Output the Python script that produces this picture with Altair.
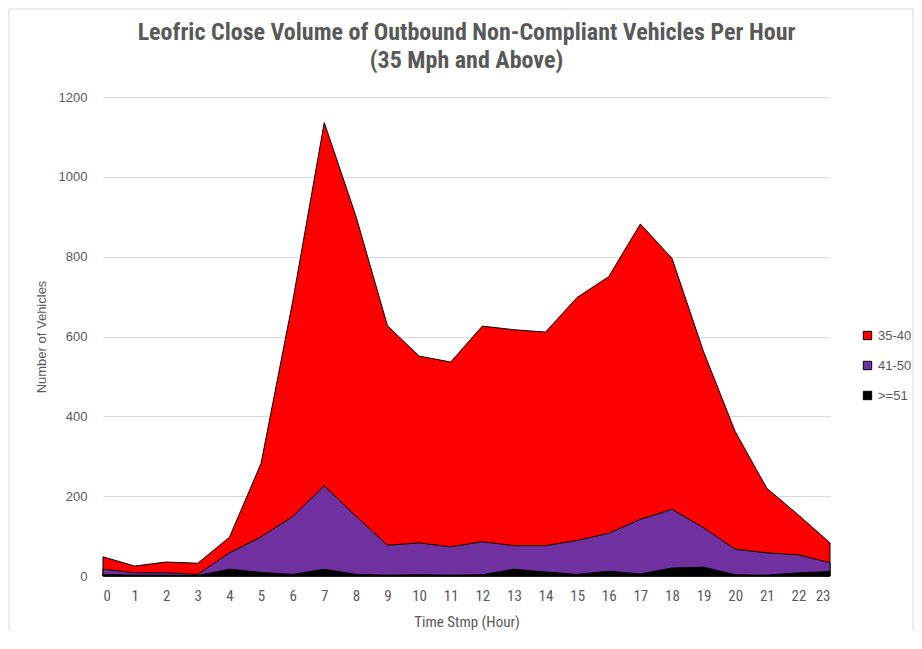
import altair as alt
import pandas as pd

hours = list(range(24))
s_35_40 = [48, 25, 35, 32, 97, 282, 687, 1136, 902, 627, 551, 536,
           626, 617, 611, 698, 750, 882, 796, 562, 362, 220, 153, 83]
s_41_50 = [17, 8, 8, 4, 58, 98, 149, 226, 150, 77, 83, 73,
           86, 76, 76, 89, 107, 142, 167, 121, 67, 58, 53, 33]
s_51 = [4, 2, 2, 1, 17, 9, 4, 17, 4, 2, 3, 2,
        3, 17, 10, 4, 12, 5, 20, 22, 3, 2, 8, 11]

series_names = ["35-40", "41-50", ">=51"]
series_colors = ["#ff0000", "#7030a0", "#000000"]

rows = []
for name, vals in zip(series_names, [s_35_40, s_41_50, s_51]):
    for h, v in zip(hours, vals):
        rows.append({"hour": h, "value": v, "series": name})
df = pd.DataFrame(rows)

narrow = "Liberation Sans Narrow, Roboto Condensed, DejaVu Sans Condensed, sans-serif"
regular = "Liberation Sans, Arial, sans-serif"
grey = "#595959"

color = alt.Color(
    "series:N",
    scale=alt.Scale(domain=series_names, range=series_colors),
    legend=alt.Legend(
        title=None, orient="none", legendX=758, legendY=232,
        symbolType="square", symbolSize=70, symbolStrokeColor="black",
        symbolStrokeWidth=1, symbolOpacity=1, labelFontSize=13, labelColor=grey,
        labelFont=regular, rowPadding=16, labelOffset=4, padding=0,
    ),
)

x = alt.X(
    "hour:Q",
    scale=alt.Scale(domain=[0, 23], nice=False, zero=False),
    axis=alt.Axis(
        title="Time Stmp (Hour)", values=hours, format="d", ticks=False,
        grid=False, domainColor="#d9d9d9", labelFont=narrow, labelFontSize=15,
        labelColor=grey, labelPadding=12, titleFont=narrow, titleFontSize=15,
        titleColor=grey, titleFontWeight="normal", titlePadding=11,
    ),
)
y = alt.Y(
    "value:Q",
    scale=alt.Scale(domain=[0, 1200], nice=False),
    stack=None,
    axis=alt.Axis(
        title="Number of Vehicles", values=[0, 200, 400, 600, 800, 1000, 1200],
        format="d", ticks=False, domain=False, gridColor="#d9d9d9", gridWidth=1,
        labelFont=regular, labelFontSize=13, labelColor=grey, labelPadding=16,
        titleFont=regular, titleFontSize=13, titleColor=grey,
        titleFontWeight="normal", titlePadding=10,
    ),
)

layers = []
for name in series_names:
    layers.append(
        alt.Chart(df)
        .transform_filter(alt.datum.series == name)
        .mark_area(stroke="black", strokeWidth=1, opacity=1, interpolate="linear")
        .encode(x=x, y=y, color=color)
    )

frame = alt.Chart(pd.DataFrame({"a": [0]})).mark_rect(
    fillOpacity=0, stroke="#d9d9d9", strokeWidth=1
).encode(x=alt.value(-94), x2=alt.value(810), y=alt.value(-88), y2=alt.value(543))

chart = alt.layer(frame, *layers).properties(
    width=727,
    height=479,
    autosize=alt.AutoSizeParams(type="none"),
    padding={"left": 95, "top": 89, "right": 84, "bottom": 55},
    title=alt.Title(
        ["Leofric Close Volume of Outbound Non-Compliant Vehicles Per Hour",
         "(35 Mph and Above)"],
        font=narrow, fontSize=24, fontWeight="bold", color=grey,
        anchor="middle", frame="group", offset=-64, lineHeight=28,
    ),
).configure_view(stroke=None)

chart.save("out.html", embed_options={"renderer": "svg", "actions": False})
